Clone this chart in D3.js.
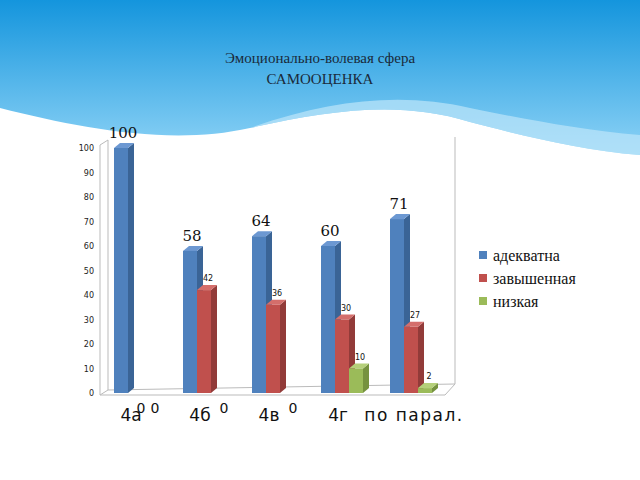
<!DOCTYPE html>
<html><head><meta charset="utf-8">
<script src="https://cdn.jsdelivr.net/npm/d3@7"></script>
<style>body{margin:0;background:#fff}</style></head>
<body><svg id="c" width="640" height="480"></svg>
<script>
const categories=["4а","4б","4в","4г","по парал."];
const seriesNames=["адекватна","завышенная","низкая"];
const adekvatna=[100,58,64,60,71];
const zavyshennaya=[0,42,36,30,27];
const nizkaya=[0,0,0,10,2];
const yTicks=[0,10,20,30,40,50,60,70,80,90,100];
const colors=["#4F81BD","#C0504D","#9BBB59"];
const dark=["#3A6496","#923B39","#76923F"];
const top3=["#6C98D2","#D46E6B","#B5D07A"];
const values=[adekvatna,zavyshennaya,nizkaya];
const svg=d3.select("#c");
const defs=svg.append("defs");
const g=defs.append("linearGradient").attr("id","bg").attr("x1",0).attr("y1",0).attr("x2",0).attr("y2",1);
g.append("stop").attr("offset","0%").attr("stop-color","#1495DD");
g.append("stop").attr("offset","100%").attr("stop-color","#8ED3F6");
svg.append("path").attr("d","M0,0H640V155C580,150 520,135 470,122C400,100 330,110 250,128C170,146 80,128 0,108Z").attr("fill","url(#bg)");
svg.append("path").attr("d","M250,128C330,110 400,100 470,122C520,135 580,150 640,155V135C580,130 520,118 470,108C400,92 330,100 250,128Z").attr("fill","#BDE6FA").attr("opacity",0.7);
svg.append("text").attr("x",320).attr("y",63).attr("text-anchor","middle").attr("font-family","Liberation Serif").attr("font-size",15).attr("fill","#1a2a3a").text("Эмоционально-волевая сфера");
svg.append("text").attr("x",320).attr("y",84).attr("text-anchor","middle").attr("font-family","Liberation Serif").attr("font-size",15).attr("fill","#1a2a3a").text("САМООЦЕНКА");
const y=d3.scaleLinear().domain([0,100]).range([393,148]);
const x=d3.scaleBand().domain(categories).range([104,449]);
const xs=d3.scaleBand().domain(seriesNames).range([0,42]);
const dx=6,dy=5;
const wall=svg.append("g").attr("stroke","#bbb").attr("fill","none");
wall.append("path").attr("d",`M100,395V145L108,140V390L100,395H445L455,384V137`);
wall.append("line").attr("x1",108).attr("y1",390).attr("x2",455).attr("y2",384);
const ax=d3.axisLeft(y).tickValues(yTicks).tickSize(0).tickPadding(6);
const ag=svg.append("g").attr("transform","translate(100,0)").call(ax);
ag.select(".domain").remove();
ag.selectAll("text").attr("font-family","DejaVu Sans").attr("font-size",8).attr("fill","#222");
seriesNames.forEach((s,si)=>{
  const gg=svg.append("g");
  categories.forEach((c,ci)=>{
    const v=values[si][ci];
    const x0=x(c)+10+xs(s), w=xs.bandwidth(), y0=y(v), yb=y(0);
    if(v>0){
      gg.append("path").attr("d",`M${x0+w},${y0}L${x0+w+dx},${y0-dy}V${yb-dy}L${x0+w},${yb}Z`).attr("fill",dark[si]);
      gg.append("path").attr("d",`M${x0},${y0}L${x0+dx},${y0-dy}H${x0+w+dx}L${x0+w},${y0}Z`).attr("fill",top3[si]);
      gg.append("rect").attr("x",x0).attr("y",y0).attr("width",w).attr("height",yb-y0).attr("fill",colors[si]);
    }
    if(si===0){
      gg.append("text").attr("x",x0+w/2+2).attr("y",y0-10).attr("text-anchor","middle").attr("font-family","DejaVu Serif").attr("font-size",15).attr("fill","#111").text(v);
    } else if(v>0){
      gg.append("text").attr("x",x0+w/2+4).attr("y",y0-9).attr("text-anchor","middle").attr("font-family","DejaVu Sans").attr("font-size",8).attr("fill","#111").text(v);
    } else {
      gg.append("text").attr("x",x0+w/2+6).attr("y",413).attr("text-anchor","middle").attr("font-family","DejaVu Sans").attr("font-size",14).attr("fill","#111").text(v);
    }
  });
});
categories.forEach(c=>{
  svg.append("text").attr("x",x(c)+(c.length>3?34:27)).attr("y",421).attr("text-anchor","middle").attr("font-family","DejaVu Sans").attr("font-size",17).attr("letter-spacing",c.length>3?1.5:0).attr("fill","#111").text(c);
});
seriesNames.forEach((s,i)=>{
  svg.append("rect").attr("x",479).attr("y",251+i*23).attr("width",8).attr("height",8).attr("fill",colors[i]);
  svg.append("text").attr("x",493).attr("y",261+i*23).attr("font-family","Liberation Serif").attr("font-size",16).attr("fill","#111").text(s);
});
</script></body></html>
